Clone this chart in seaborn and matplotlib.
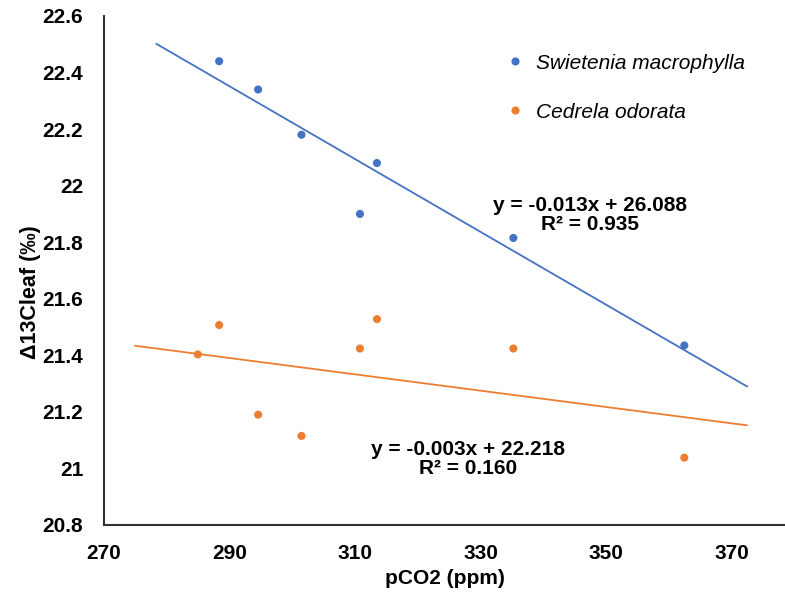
import numpy as np
import pandas as pd
import matplotlib
matplotlib.use("Agg")
import matplotlib.pyplot as plt
import seaborn as sns

# Leaf carbon isotope discrimination vs. atmospheric CO2
species = ["Swietenia macrophylla", "Cedrela odorata"]
colors = ["#4472C4", "#ED7D31"]

swietenia_pco2 = [288.4, 294.6, 301.5, 310.8, 313.5, 335.2, 362.4]
swietenia_d13c = [22.44, 22.34, 22.18, 21.90, 22.08, 21.815, 21.435]

cedrela_pco2 = [285.0, 288.4, 294.6, 301.5, 310.8, 313.5, 335.2, 362.4]
cedrela_d13c = [21.403, 21.507, 21.19, 21.115, 21.424, 21.528, 21.424, 21.038]

equations = ["y = -0.013x + 26.088\nR\u00b2 = 0.935",
             "y = -0.003x + 22.218\nR\u00b2 = 0.160"]
equation_pos = [(347.4, 21.895), (328.0, 21.035)]

x_ticks = [270, 290, 310, 330, 350, 370]
y_ticks = [20.8, 21.0, 21.2, 21.4, 21.6, 21.8, 22.0, 22.2, 22.4, 22.6]
y_tick_labels = ["20.8", "21", "21.2", "21.4", "21.6", "21.8", "22", "22.2", "22.4", "22.6"]

df = pd.concat([
    pd.DataFrame({"pCO2": swietenia_pco2, "d13C": swietenia_d13c, "species": species[0]}),
    pd.DataFrame({"pCO2": cedrela_pco2, "d13C": cedrela_d13c, "species": species[1]}),
], ignore_index=True)

sns.set_style("white")
plt.rcParams["font.family"] = ["Liberation Sans", "DejaVu Sans"]
plt.rcParams["text.color"] = "black"
plt.rcParams["axes.labelcolor"] = "black"

fig = plt.figure(figsize=(7.85, 5.94), dpi=100)
ax = fig.add_axes([0.13185, 0.1162, 0.8808, 0.8569])

sns.scatterplot(data=df, x="pCO2", y="d13C", hue="species", hue_order=species,
                palette=colors, s=34, edgecolor="none", ax=ax, zorder=3)

# Linear trendlines, extended 10 ppm beyond the data on each side
for sp, col in zip(species, colors):
    sub = df[df["species"] == sp]
    ax.set_xlim(sub["pCO2"].min() - 10, sub["pCO2"].max() + 10)
    sns.regplot(data=sub, x="pCO2", y="d13C", scatter=False, ci=None,
                truncate=False, color=col, line_kws={"lw": 1.3}, ax=ax)

ax.set_xlim(270, 380)
ax.set_ylim(20.8, 22.6)
ax.set_xticks(x_ticks)
ax.set_yticks(y_ticks)
ax.set_yticklabels(y_tick_labels)

for txt, (ex, ey) in zip(equations, equation_pos):
    ax.text(ex, ey, txt, ha="center", va="center", multialignment="center",
            fontsize=15, fontweight="bold", linespacing=1.0, color="black")

ax.set_xlabel("pCO2 (ppm)", fontsize=15, fontweight="bold")
ax.set_ylabel("\u039413Cleaf (\u2030)", fontsize=15.5, fontweight="bold")
ax.xaxis.label.set_verticalalignment("center")
ax.yaxis.label.set_verticalalignment("center")
ax.xaxis.set_label_coords(0.494, -0.106)
ax.yaxis.set_label_coords(-0.106, 0.458)

for s in ["top", "right"]:
    ax.spines[s].set_visible(False)
for s in ["left", "bottom"]:
    ax.spines[s].set_color("#333333")
    ax.spines[s].set_linewidth(1.5)

ax.tick_params(axis="both", direction="inout", length=9, width=1.2,
               color="#333333", labelcolor="black", labelsize=15)
ax.tick_params(axis="x", pad=9)
ax.tick_params(axis="y", pad=10)
for lab in ax.get_xticklabels() + ax.get_yticklabels():
    lab.set_fontweight("bold")

leg = ax.legend(loc="upper left", bbox_to_anchor=(0.553, 0.963), frameon=False,
                prop={"style": "italic", "size": 15}, labelspacing=1.45,
                handlelength=1.0, handletextpad=0.5, markerscale=1.0)
for t in leg.get_texts():
    t.set_color("black")

fig.savefig("out.png", dpi=100)
